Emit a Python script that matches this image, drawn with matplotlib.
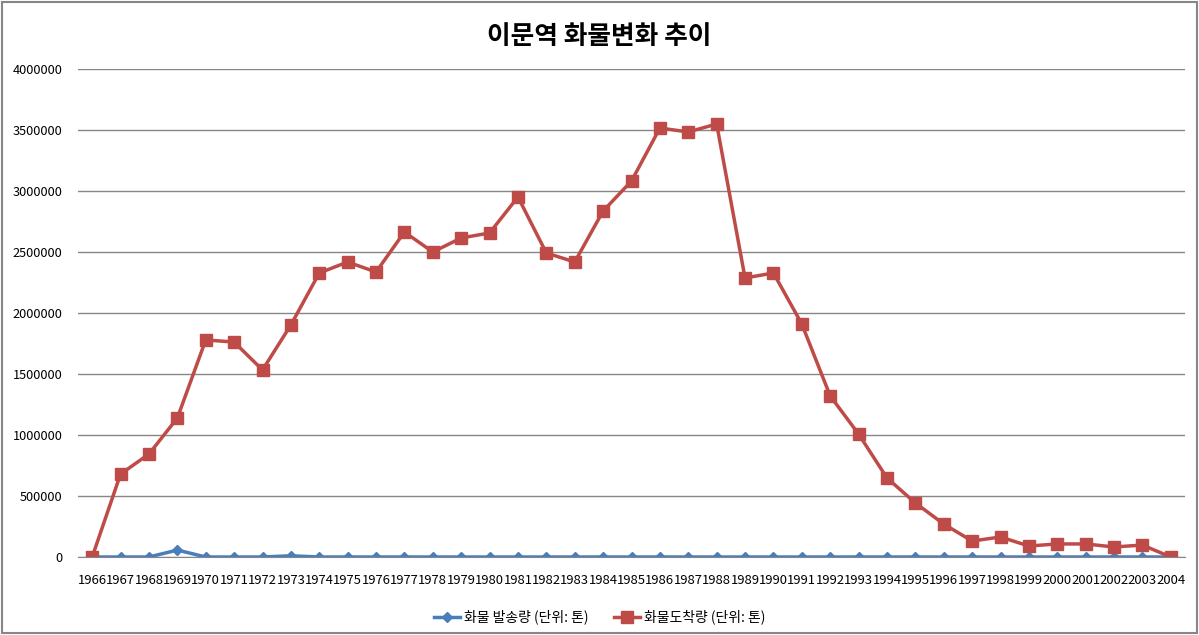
import numpy as np
import matplotlib.pyplot as plt
from matplotlib.patches import Rectangle

plt.rcParams['font.family'] = ['Noto Sans CJK KR', 'DejaVu Sans']

years = list(range(1966, 2005))
# 화물 발송량 (단위: 톤)
sent = [0, 0, 0, 57000, 0, 0, 0, 10000, 0, 0,
        0, 0, 0, 0, 0, 0, 0, 0, 0, 0,
        0, 0, 0, 0, 0, 0, 0, 0, 0, 0,
        0, 0, 0, 0, 0, 0, 0, 0, 0]
# 화물도착량 (단위: 톤)
arrived = [0, 680000, 844000, 1139000, 1779000, 1762000, 1533000, 1902000, 2328000, 2418000,
           2336000, 2664000, 2500000, 2615000, 2656000, 2951000, 2492000, 2418000, 2836000, 3082000,
           3516000, 3484000, 3549000, 2287000, 2328000, 1910000, 1320000, 1008000, 648000, 443000,
           270000, 131000, 164000, 90000, 107000, 107000, 82000, 98000, 0]
y_ticks = np.arange(0, 4000001, 500000)

fig = plt.figure(figsize=(11.99, 6.35), dpi=100)
ax = fig.add_axes([78 / 1199, 1 - 557 / 635, 1107 / 1199, 488 / 635])

x = np.arange(len(years))
ax.plot(x, sent, '-D', color='#4a7ebb', lw=2.5, ms=5.5, label='화물 발송량 (단위: 톤)')
ax.plot(x, arrived, '-s', color='#be4b48', lw=2.5, ms=8, label='화물도착량 (단위: 톤)')

ax.set_xlim(-0.5, len(years) - 0.5)
ax.set_ylim(0, 4000000)
ax.set_yticks(y_ticks)
ax.set_yticklabels([str(v) for v in y_ticks], fontsize=9.2)
ax.set_xticks(x)
ax.set_xticklabels([str(y) for y in years], fontsize=9.4)
ax.tick_params(axis='x', length=0, pad=12)
ax.tick_params(axis='y', length=0, pad=11)
ax.grid(axis='y', color='#868686', lw=1)
ax.set_axisbelow(True)
for s in ['top', 'right', 'left']:
    ax.spines[s].set_visible(False)
ax.spines['bottom'].set_color('#868686')

fig.text(0.5, 1 - 36 / 635, '이문역 화물변화 추이', ha='center', va='center',
         fontsize=18.5, fontweight='bold')

leg = fig.legend(loc='center', bbox_to_anchor=(0.5, 1 - 617 / 635), ncol=2, frameon=False,
                 fontsize=10, handlelength=1.9, handletextpad=0.3, columnspacing=1.8)

fig.patches.append(Rectangle((2 / 1199, 2 / 635), 1195 / 1199, 631 / 635, transform=fig.transFigure,
                             fill=False, edgecolor='#868686', lw=1.5))

fig.savefig('out.png', dpi=100)
